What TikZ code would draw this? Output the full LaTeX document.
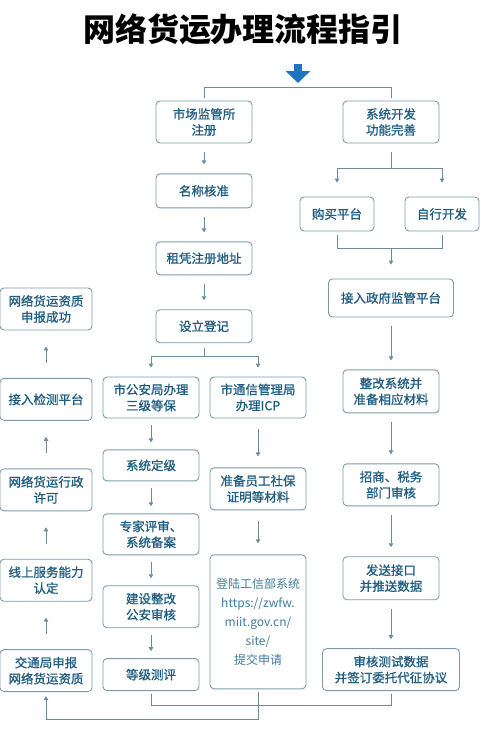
\documentclass[tikz,border=0pt]{standalone}
\usepackage{fontspec}
\newfontfamily\cjk{Noto Sans CJK SC}
\newfontfamily\cjkmid[FakeBold=1]{Noto Sans CJK SC}
\usetikzlibrary{positioning}
\usetikzlibrary{arrows.meta}
\definecolor{boxline}{HTML}{7E9BAB}
\definecolor{boxtext}{HTML}{1F5C80}
\definecolor{boxtextlight}{HTML}{3E7C9C}
\definecolor{flowline}{HTML}{6C8C9E}
\definecolor{startblue}{HTML}{1E73C2}

\begin{document}
\begin{tikzpicture}[x=1pt,y=-1pt,
                    stepbox/.style={draw=boxline,
                                    rounded corners=4pt,
                                    line width=0.9pt,
                                    text=boxtext,
                                    align=center,
                                    inner sep=0pt,
                                    minimum width=96pt,
                                    minimum height=42pt,
                                    font=\cjkmid\fontsize{12.5}{16}\selectfont
                                   },
                    flow/.style={draw=flowline,
                                 line width=0.9pt,
                                 -{Triangle[length=4pt,width=4.5pt]},
                                 shorten <=9pt,
                                 shorten >=9pt
                                },
                    link/.style={draw=flowline,
                                 line width=0.9pt
                                },
                    startarrow/.style={draw=startblue,
                                       line width=8pt,
                                       -{Triangle[length=12pt,width=24pt]}
                                      }
                   ]
  \useasboundingbox (0,0) rectangle (480,737);
  \node[font=\cjk\bfseries\fontsize{32}{36}\selectfont] (title) at (243,29) {网络货运办理流程指引};

  % company registration
  \node[stepbox] (mreg) at (204,122) {市场监管所\\注册};
  \node[stepbox,below=30pt of mreg,minimum height=34pt] (mname) {名称核准};
  \node[stepbox,below=33pt of mname,minimum height=33pt] (maddr) {租凭注册地址};
  \node[stepbox,below=34pt of maddr,minimum height=33pt] (mset) {设立登记};

  % police and telecom
  \node[stepbox,minimum height=41pt] (police) at (151,397.5) {市公安局办理\\三级等保};
  \node[stepbox,below=31pt of police,minimum height=31pt] (grade) {系统定级};
  \node[stepbox,below=32pt of grade,minimum height=41pt] (expert) {专家评审、\\系统备案};
  \node[stepbox,below=30pt of expert] (rectify) {建设整改\\公安审核};
  \node[stepbox,below=30pt of rectify,minimum height=32pt] (evaluate) {等级测评};
  \node[stepbox,minimum height=41pt] (telecom) at (258,397.5) {市通信管理局\\办理ICP};
  \node[stepbox,below=49pt of telecom] (material) {准备员工社保\\证明等材料};
  \node[stepbox,below=44pt of material,minimum height=134pt,
        font=\cjk\fontsize{12}{19}\selectfont,text=boxtextlight] (miit) {登陆工信部系统\\https://zwfw.\\miit.gov.cn/\\site/\\提交申请};

  % platform
  \node[stepbox] (sysdev) at (391,122) {系统开发\\功能完善};
  \node[stepbox,minimum width=74pt,minimum height=34pt] (buy) at (337,214) {购买平台};
  \node[stepbox,minimum width=74pt,minimum height=34pt] (selfdev) at (442,214) {自行开发};
  \node[stepbox,minimum width=125pt,minimum height=38pt] (govlink) at (391,298) {接入政府监管平台};
  \node[stepbox,below=52pt of govlink,minimum height=43pt] (prepare) {整改系统并\\准备相应材料};
  \node[stepbox,below=50pt of prepare] (taxaudit) {招商、税务\\部门审核};
  \node[stepbox,below=50pt of taxaudit,minimum height=43pt] (sendapi) {发送接口\\并推送数据};
  \node[stepbox,below=48pt of sendapi,minimum width=137pt] (testdata) {审核测试数据\\并签订委托代征协议};

  % licence
  \node[stepbox,minimum width=92pt] (success) at (46,309) {网络货运资质\\申报成功};
  \node[stepbox,minimum width=92pt,below=47.5pt of success] (monitor) {接入检测平台};
  \node[stepbox,minimum width=92pt,below=47.5pt of monitor] (permit) {网络货运行政\\许可};
  \node[stepbox,minimum width=92pt,below=47.5pt of permit] (online) {线上服务能力\\认定};
  \node[stepbox,minimum width=92pt,below=47.5pt of online] (transport) {交通局申报\\网络货运资质};

  \coordinate (start) at (298,64);
  \coordinate (topfork) at (298,87);
  \coordinate (setfork) at (204,356);
  \coordinate (sysfork) at (391,168);
  \coordinate (buyjoin) at (391,248);
  \coordinate (evalbus) at (391,705);
  \coordinate (backbus) at (46,719);

  \draw[startarrow,shorten >=4pt] (start) -- (topfork);
  \draw[link,shorten >=3pt] (topfork) -| (mreg.north);
  \draw[link,shorten >=3pt] (topfork) -| (sysdev.north);

  \foreach \a/\b in {mreg/mname,mname/maddr,maddr/mset,govlink/prepare,prepare/taxaudit,taxaudit/sendapi,sendapi/testdata}
    \draw[flow] (\a) -- (\b);
  \foreach \a/\b in {police/grade,grade/expert,expert/rectify,rectify/evaluate}
    \draw[flow,shorten <=7pt,shorten >=7pt] (\a) -- (\b);
  \foreach \a/\b in {telecom/material,material/miit}
    \draw[flow,shorten <=11pt,shorten >=11pt] (\a) -- (\b);
  \foreach \a/\b in {transport/online,online/permit,permit/monitor,monitor/success}
    \draw[flow,shorten <=15pt,shorten >=16pt] (\a) -- (\b);

  \draw[link,shorten <=5pt] (mset) -- (setfork);
  \draw[flow,shorten <=0pt] (setfork) -| (police.north);
  \draw[flow,shorten <=0pt] (setfork) -| (telecom.north);

  \draw[link,shorten <=9pt] (sysdev) -- (sysfork);
  \draw[flow,shorten <=0pt,shorten >=14pt] (sysfork) -| (buy.north);
  \draw[flow,shorten <=0pt,shorten >=14pt] (sysfork) -| (selfdev.north);
  \draw[link,shorten <=4pt] (buy.south) |- (buyjoin);
  \draw[link,shorten <=4pt] (selfdev.south) |- (buyjoin);
  \draw[flow,shorten <=0pt,shorten >=14pt] (buyjoin) -- (govlink.north);

  \draw[link,shorten <=3pt,shorten >=3pt] (evaluate.south) |- (evalbus) -- (testdata.south);
  \draw[flow,shorten <=3pt,shorten >=4pt] (miit.south) |- (backbus) -- (transport.south);
\end{tikzpicture}
\end{document}
